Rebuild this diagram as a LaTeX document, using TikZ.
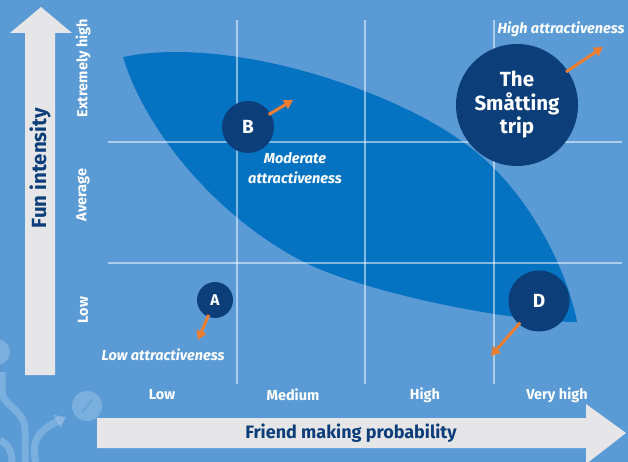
\documentclass[tikz,border=0pt]{standalone}
\usepackage{fontspec}
\setmainfont{Fira Sans}
\usetikzlibrary{arrows.meta}
\definecolor{bg}{RGB}{91,155,213}
\definecolor{lens}{RGB}{6,114,194}
\definecolor{navy}{RGB}{12,62,122}
\definecolor{axisgray}{RGB}{230,230,232}
\definecolor{orng}{RGB}{237,125,49}
\begin{document}
\begin{tikzpicture}[x=1pt,y=-1pt,
 dot/.style={circle,fill=navy,text=white,inner sep=0pt,font=\bfseries\fontsize{19}{22}\selectfont},
 push/.style={draw=orng,line width=3pt,shorten <=-2pt,-{Triangle[length=9pt,width=10pt]}},
 gridline/.style={draw=white,opacity=0.5,line width=1.2pt},
 ticklab/.style={text=white,font=\bfseries\fontsize{14.5}{16}\selectfont},
 attr/.style={text=white,font=\bfseries\itshape\fontsize{14.5}{20}\selectfont,align=center},
 axislab/.style={text=navy,font=\bfseries\fontsize{18}{20}\selectfont},
 deco/.style={white,opacity=0.2}]
\useasboundingbox (0,0) rectangle (628,462);
\fill[bg] (0,0) rectangle (628,462);
% faint decoration lower left
\fill[deco] (-3,352) circle (13);
\fill[deco] (87,406) circle (15);
\draw[bg!80!navy,opacity=0.35,line width=2pt,line cap=round] (82,412) -- (92,400);
\draw[deco,line width=7pt] (2,372) -- (2,392) .. controls (2,405) and (25,410) .. (25,430) -- (25,462);
\draw[deco,line width=7pt] (0,440) .. controls (8,445) and (12,450) .. (12,462);
\draw[deco,line width=7pt,-{Triangle[length=10pt,width=14pt]}] (36,462) .. controls (30,440) and (40,430) .. (66,417);
% lens
\fill[lens] (123,57) .. controls (230,35) and (390,90) .. (460,140)
 .. controls (520,180) and (565,260) .. (577,322)
 .. controls (510,322) and (360,292) .. (300,260)
 .. controls (215,215) and (145,130) .. (123,57) -- cycle;
% grid
\foreach \gx in {237,365,494} \draw[gridline] (\gx,20) -- (\gx,384);
\foreach \gy in {142,263} \draw[gridline] (108,\gy) -- (622,\gy);
% axis arrows
\fill[axisgray] (25,375) -- (25,33) -- (10,33) -- (41,7) -- (72,33) -- (55,33) -- (55,375) -- cycle;
\fill[axisgray] (97,418) -- (586,418) -- (586,404) -- (626,433) -- (586,464) -- (586,448) -- (97,448) -- cycle;
\node[axislab,font=\bfseries\fontsize{20.5}{22}\selectfont,rotate=90] (ylab) at (40,168) {Fun intensity};
\node[axislab] (xlab) at (351,433) {Friend making probability};
% tick labels
\node[ticklab] (xl1) at (162,395) {Low};
\node[ticklab] (xl2) at (293,395) {Medium};
\node[ticklab] (xl3) at (425,395) {High};
\node[ticklab] (xl4) at (557,395) {Very high};
\node[ticklab,rotate=90] (yl1) at (83,310) {Low};
\node[ticklab,rotate=90] (yl2) at (83,195) {Average};
\node[ticklab,rotate=90] (yl3) at (83,68) {Extremely high};
% circles
\node[dot,minimum size=52pt] (B) at (248,127) {B};
\node[dot,minimum size=36pt,font=\bfseries\fontsize{15.5}{18}\selectfont] (A) at (215,300) {A};
\node[dot,minimum size=122pt,align=center,font=\bfseries\fontsize{20.5}{23.5}\selectfont] (S) at (517,105) {The\\Småtting\\trip};
\node[dot,minimum size=61pt] (D) at (539,301) {D};
\coordinate (Bt) at (293,100);
\coordinate (At) at (198,340);
\coordinate (St) at (603,47);
\coordinate (Dt) at (491,356);
\draw[push] (B) -- (Bt);
\draw[push] (A) -- (At);
\draw[push] (S) -- (St);
\draw[push] (D) -- (Dt);
% attractiveness labels
\node[attr] (lm) at (295,168) {Moderate\\attractiveness};
\node[attr,anchor=east] (lh) at (628,29) {High attractiveness};
\node[attr] (ll) at (163,355) {Low attractiveness};
\end{tikzpicture}
\end{document}
